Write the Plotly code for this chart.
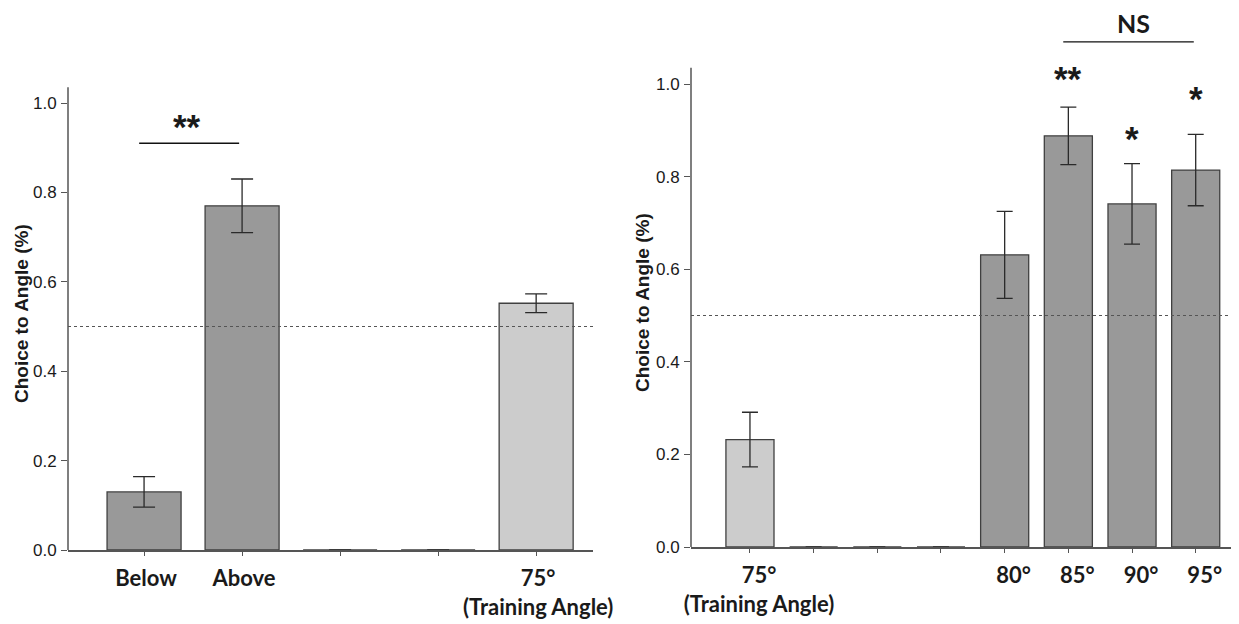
import plotly.graph_objects as go

# ---------------- data ----------------
left_labels = ["Below", "Above", "", "", "75°<br>(Training Angle)"]
left_means = [0.13, 0.77, 0.0, 0.0, 0.552]
left_sem = [0.034, 0.06, None, None, 0.021]
left_group = ["test", "test", "empty", "empty", "training"]

right_labels = ["75°<br>(Training Angle)", "", "", "", "80°", "85°", "90°", "95°"]
right_means = [0.232, 0.0, 0.0, 0.0, 0.631, 0.888, 0.741, 0.814]
right_sem = [0.059, None, None, None, 0.094, 0.062, 0.087, 0.077]
right_group = ["training", "empty", "empty", "empty", "test", "test", "test", "test"]

y_ticks = [0.0, 0.2, 0.4, 0.6, 0.8, 1.0]
chance_level = 0.5
y_title = "Choice to Angle (%)"

# significance marks: (text, category index, height)
left_stars = [("**", 0.44, 0.948)]
left_bracket = (0, 1, 0.91)          # from bar, to bar, height
right_stars = [("**", 5, 1.012), ("*", 6, 0.882), ("*", 7, 0.968)]
right_bracket = (5, 7, 1.091, "NS", 1.132)

# ---------------- styles ----------------
COL = {"test": "#999999", "training": "#cccccc", "empty": "rgba(0,0,0,0)"}
EDGE = "#404040"
AXC = "#555555"
TXT = "#1a1a1a"
OFF = 8                      # page body margin
W, H = 1239 - OFF, 624 - OFF
LBL_FONT = dict(family="Lato, Carlito, Calibri, sans-serif", size=22, color=TXT)
TICK_FONT = dict(family="Liberation Sans, Arial, sans-serif", size=17, color=TXT)
STAR_FONT = dict(family="Liberation Sans, Arial, sans-serif", size=35, color=TXT)

fig = go.Figure()

fig.add_trace(go.Bar(
    x=list(range(len(left_means))), y=left_means, width=0.755,
    marker=dict(color=[COL[g] for g in left_group],
                line=dict(color=EDGE, width=1.3)),
    error_y=dict(type="data", array=left_sem, visible=True, color="#2a2a2a",
                 thickness=1.3, width=11),
    xaxis="x", yaxis="y", showlegend=False, hoverinfo="skip"))

fig.add_trace(go.Bar(
    x=list(range(len(right_means))), y=right_means, width=0.755,
    marker=dict(color=[COL[g] for g in right_group],
                line=dict(color=EDGE, width=1.3)),
    error_y=dict(type="data", array=right_sem, visible=True, color="#2a2a2a",
                 thickness=1.3, width=8),
    xaxis="x2", yaxis="y2", showlegend=False, hoverinfo="skip"))

def px_x(p):
    return (p - OFF) / W

def px_y(p):
    return (H - (p - OFF)) / H

LTOP, RTOP = 1.05, 1.16

common_x = dict(showline=True, linecolor=AXC, linewidth=1.5, ticks="outside",
                ticklen=4, tickcolor=AXC, tickwidth=1.2, showgrid=False,
                zeroline=False, tickfont=LBL_FONT, ticklabelstandoff=4,
                fixedrange=True, automargin=False)
common_y = dict(showline=False, ticks="outside", ticklen=6, tickcolor=AXC,
                tickwidth=1.3, showgrid=False, zeroline=False,
                tickvals=y_ticks, tickformat=".1f", tickfont=TICK_FONT,
                ticklabelstandoff=1, fixedrange=True, automargin=False)

fig.update_layout(
    width=W, height=H, margin=dict(l=0, r=0, t=0, b=0, autoexpand=False),
    paper_bgcolor="white", plot_bgcolor="white", bargap=0.25,
    showlegend=False,
    xaxis=dict(domain=[px_x(68), px_x(593)], range=[-0.776, 4.58],
               tickvals=list(range(len(left_labels))),
               ticktext=[f"<b>{t}</b>" if t else "" for t in left_labels],
               anchor="y", ticklabelshift=2, **common_x),
    yaxis=dict(domain=[px_y(550), px_y(550 - LTOP * 447)], range=[0, LTOP],
               anchor="x", **common_y),
    xaxis2=dict(domain=[px_x(691), 1.0], range=[-0.926, 7.68],
                tickvals=list(range(len(right_labels))),
                ticktext=[f"<b>{t}</b>" if t else "" for t in right_labels],
                anchor="y2", ticklabelshift=9, **common_x),
    yaxis2=dict(domain=[px_y(547), px_y(547 - RTOP * 463)], range=[0, RTOP],
                anchor="x2", **common_y),
)

shapes = []
for xa, ya in (("x", "y"), ("x2", "y2")):
    # y axis line
    shapes.append(dict(type="line", xref=f"{xa} domain", yref=ya, x0=0, x1=0,
                       y0=0, y1=1.035, line=dict(color=AXC, width=1.5)))
    # chance line
    shapes.append(dict(type="line", xref=f"{xa} domain", yref=ya, x0=0, x1=1,
                       y0=chance_level, y1=chance_level,
                       line=dict(color="#555555", width=1.2, dash="dot")))

b0, b1, bh = left_bracket
shapes.append(dict(type="line", xref="x", yref="y", x0=b0 - 0.05, x1=b1 - 0.03,
                   y0=bh, y1=bh, line=dict(color="#111111", width=1.4)))
r0, r1, rh, rtxt, rth = right_bracket
shapes.append(dict(type="line", xref="x2", yref="y2", x0=r0 - 0.08, x1=r1 - 0.03,
                   y0=rh, y1=rh, line=dict(color="#111111", width=1.4)))
fig.update_layout(shapes=shapes)

ann = []
for t, xi, yv in left_stars:
    ann.append(dict(text=f"<b>{t}</b>", x=xi, y=yv, xref="x", yref="y",
                    showarrow=False, font=STAR_FONT, xanchor="center",
                    yanchor="middle"))
for t, xi, yv in right_stars:
    ann.append(dict(text=f"<b>{t}</b>", x=xi, y=yv, xref="x2", yref="y2",
                    showarrow=False, font=STAR_FONT, xanchor="center",
                    yanchor="middle"))
ann.append(dict(text=f"<b>{rtxt}</b>", x=(r0 + r1) / 2 + 0.02, y=rth, xref="x2",
                yref="y2", showarrow=False, xanchor="center",
                font=dict(family="Lato, Carlito, sans-serif", size=25, color=TXT),
                yanchor="middle"))
for xp, yp in ((21, 314), (642, 303)):
    ann.append(dict(text=f"<b>{y_title}</b>", x=px_x(xp), y=px_y(yp),
                    xref="paper", yref="paper", textangle=-90, showarrow=False,
                    xanchor="center", yanchor="middle",
                    font=dict(family="Liberation Sans, Arial, sans-serif",
                              size=19, color=TXT)))
fig.update_layout(annotations=ann)

fig.write_html("out.html")
